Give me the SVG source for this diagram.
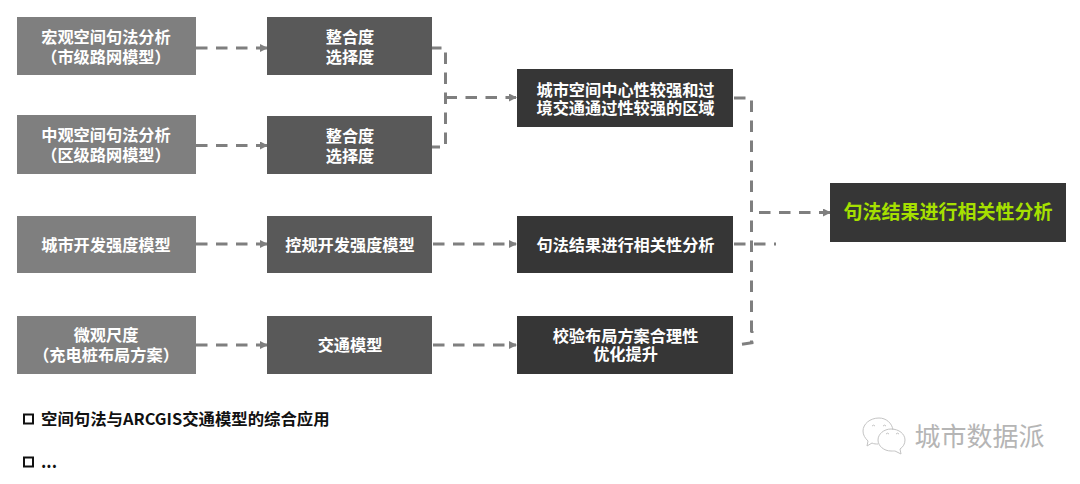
<svg xmlns="http://www.w3.org/2000/svg" width="1080" height="484" viewBox="0 0 1080 484">
<defs>
<marker id="ah" markerWidth="8" markerHeight="8" refX="7" refY="4" orient="auto" markerUnits="userSpaceOnUse"><path d="M0 0L8 4L0 8Z" fill="#7f7f7f"/></marker>
</defs>
<style>
text{font-family:"Noto Sans CJK SC","Liberation Sans",sans-serif;font-size:16.2px;font-weight:700;fill:#fff;text-anchor:middle}
.l{fill:#7f7f7f}.m{fill:#595959}.d{fill:#363636}
.c{fill:none;stroke:#7f7f7f;stroke-width:3;stroke-dasharray:11.500 8.500}
.a{marker-end:url(#ah)}
.n{font-weight:700;fill:#111;text-anchor:start}
.w{fill:none;stroke:#c4c4c4;stroke-width:1}
</style>
<rect width="1080" height="484" fill="#fff"/>
<g id="connectors">
<path class="c a" d="M196 48H267"/>
<path class="c a" d="M196 145.500H267"/>
<path class="c a" d="M196 244H267"/>
<path class="c a" d="M196 345H267"/>
<path class="c a" d="M433 244H516"/>
<path class="c a" d="M433 345H516"/>
<path class="c" d="M430 48H445.500V147H430"/>
<path class="c a" d="M445.500 97.500H516"/>
<path class="c" d="M734 98H751.500V342"/>
<path class="c" d="M742 344.300L752 342.800V331"/>
<path class="c a" d="M759 212.500H830"/>
<path class="c" d="M734 244H776"/>
</g>
<g id="n1"><rect class="l" x="17" y="17" width="179" height="58"/><text x="106" y="43">宏观空间句法分析</text><text x="106" y="63">（市级路网模型）</text></g>
<g id="n2"><rect class="l" x="17" y="115" width="179" height="59"/><text x="106" y="141">中观空间句法分析</text><text x="106" y="161">（区级路网模型）</text></g>
<g id="n3"><rect class="l" x="17" y="216" width="179" height="57"/><text x="106" y="251">城市开发强度模型</text></g>
<g id="n4"><rect class="l" x="17" y="316" width="179" height="58"/><text x="106" y="341">微观尺度</text><text x="106" y="361">（充电桩布局方案）</text></g>
<g id="n5"><rect class="m" x="267" y="17" width="165" height="58"/><text x="350" y="43">整合度</text><text x="350" y="63">选择度</text></g>
<g id="n6"><rect class="m" x="267" y="116" width="165" height="58"/><text x="350" y="142">整合度</text><text x="350" y="162">选择度</text></g>
<g id="n7"><rect class="m" x="267" y="216" width="165" height="57"/><text x="350" y="251">控规开发强度模型</text></g>
<g id="n8"><rect class="m" x="267" y="316" width="165" height="58"/><text x="350" y="351">交通模型</text></g>
<g id="n9"><rect class="d" x="517" y="69" width="216" height="58"/><text x="625.500" y="96">城市空间中心性较强和过</text><text x="625.500" y="114">境交通通过性较强的区域</text></g>
<g id="n10"><rect class="d" x="517" y="216" width="216" height="57"/><text x="625.500" y="251">句法结果进行相关性分析</text></g>
<g id="n11"><rect class="d" x="517" y="316" width="216" height="58"/><text x="625.500" y="342">校验布局方案合理性</text><text x="625.500" y="360">优化提升</text></g>
<g id="n12"><rect class="d" x="830" y="183" width="236" height="59"/><text x="948" y="219" style="font-size:19px;fill:#a6e000">句法结果进行相关性分析</text></g>
<g id="notes">
<rect x="24" y="414.500" width="9" height="9" fill="none" stroke="#111" stroke-width="2"/>
<text class="n" x="41" y="425" style="font-size:16.400px">空间句法与ARCGIS交通模型的综合应用</text>
<rect x="24" y="457.500" width="9" height="9" fill="none" stroke="#111" stroke-width="2"/>
<text class="n" x="41" y="468" style="font-size:16.400px">...</text>
</g>
<g id="watermark">
<path class="w" d="M879 418c-9 0-16 6-16 13c0 4 2 7 5 10l-1 5l5-3c2 1 4 1 6 1M893 430c-1-7-7-12-14-12"/>
<path class="w" d="M891 429c-7 0-13 5-13 11s6 11 13 11c2 0 3 0 4 0l6 3l-1-5c3-2 5-5 5-9c0-6-6-11-14-11Z"/>
<path class="w" d="M872 426a2 2 0 0 1 3 0M883 426a2 2 0 0 1 3 0M886 434a2 2 0 0 1 3 0M896 434a2 2 0 0 1 3 0"/>
<text x="979.500" y="446" style="font-size:26px;font-weight:400;fill:#b5b5b5">城市数据派</text>
</g>
</svg>
